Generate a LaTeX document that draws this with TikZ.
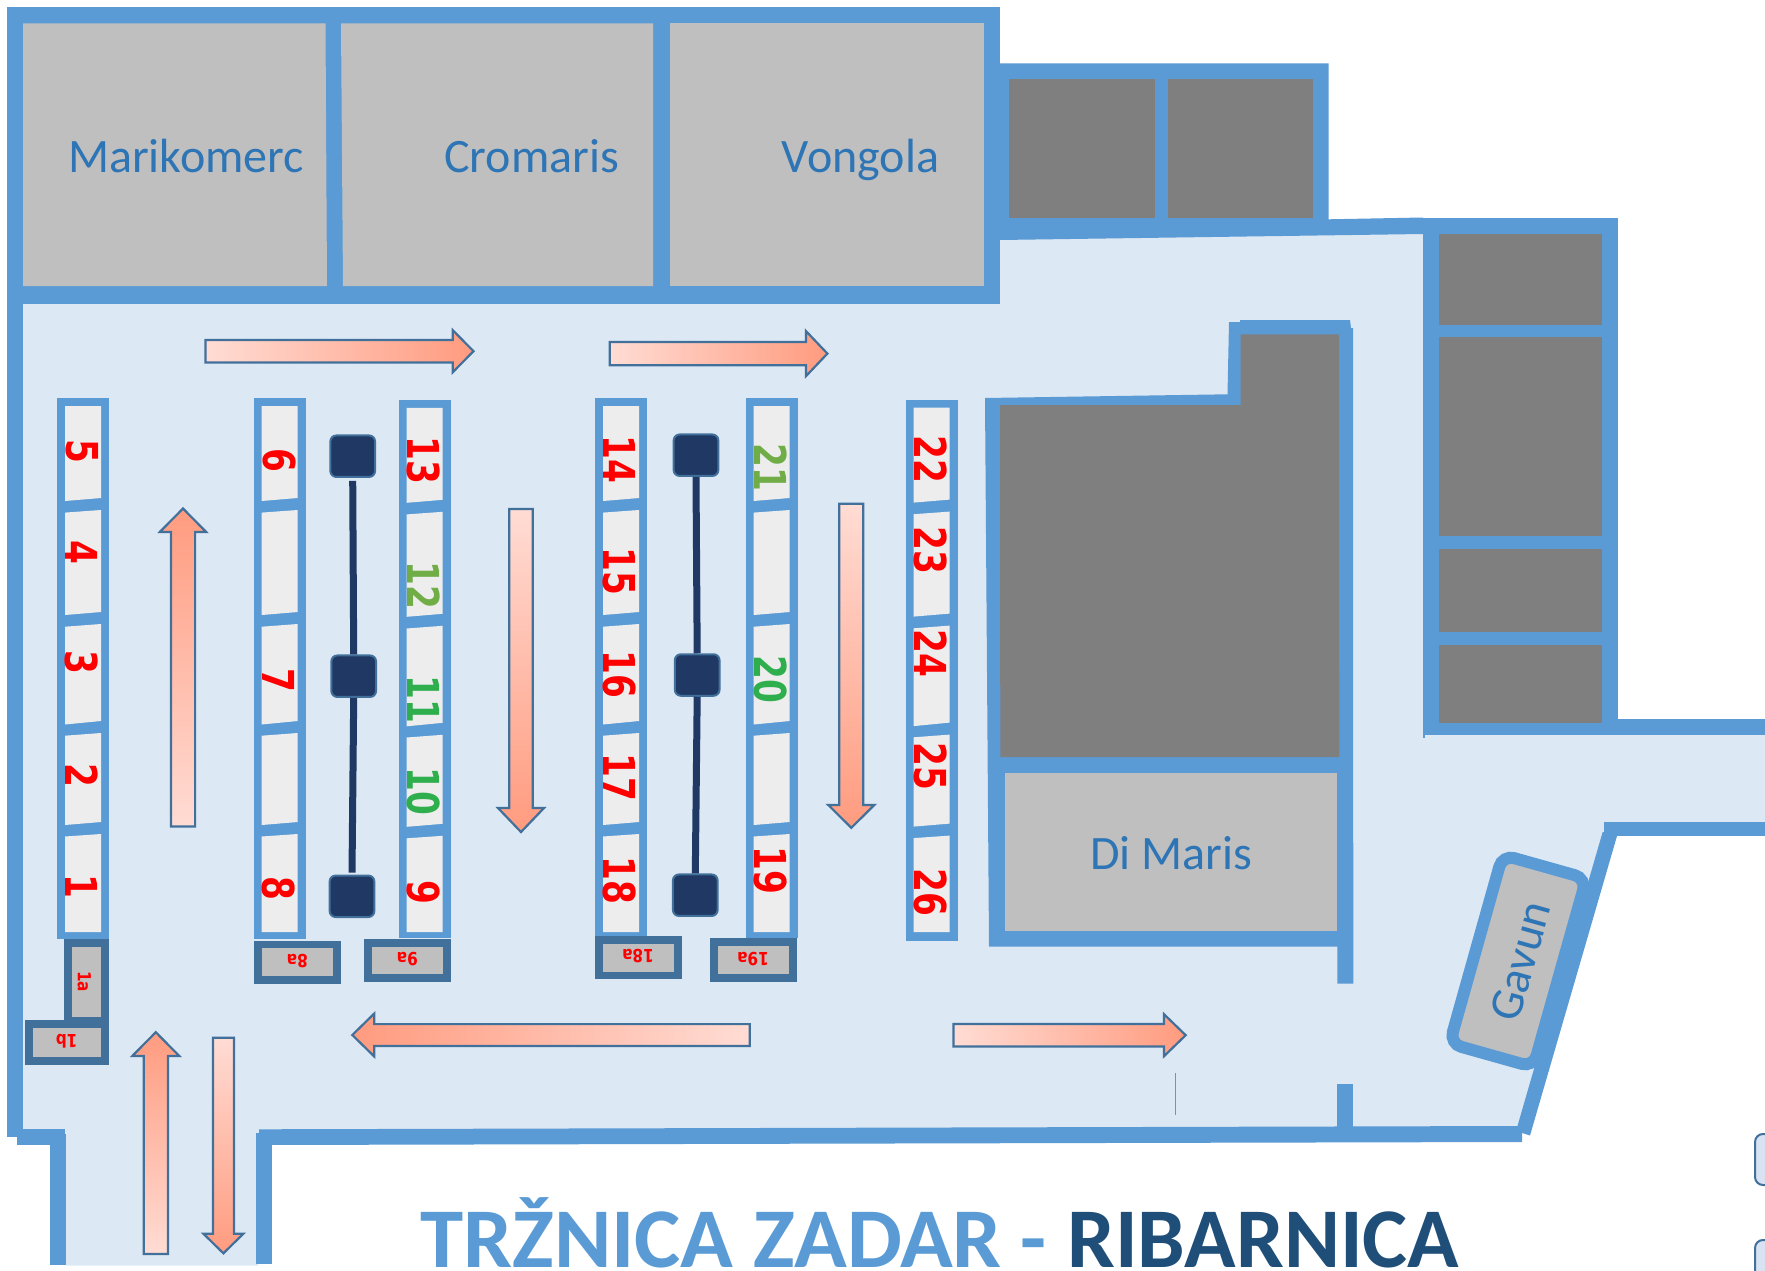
\documentclass[tikz,border=0pt]{standalone}
\usepackage{fontspec}
\setmainfont{Carlito}
\newfontfamily\numbold{DejaVu Sans Bold}
\definecolor{wall}{HTML}{5B9BD5}
\definecolor{floorc}{HTML}{DDE8F5}
\definecolor{midgray}{HTML}{BFBFBF}
\definecolor{darkgray2}{HTML}{7F7F7F}
\definecolor{cellc}{HTML}{EDEDED}
\definecolor{edgec}{HTML}{41709B}
\definecolor{navy}{HTML}{1F3864}
\definecolor{txtblue}{HTML}{2E75B6}
\definecolor{titledark}{HTML}{1F4E79}
\definecolor{lgreen}{HTML}{70AD47}
\definecolor{sgreen}{HTML}{2FAE4E}
\definecolor{arrowl}{HTML}{FFDCD4}
\definecolor{arrowd}{HTML}{FF9B7F}
\definecolor{sparec}{HTML}{D9E2F3}
\tikzset{
  wallfill/.style={fill=wall,draw=none},
  darkroom/.style={fill=darkgray2,draw=none},
  liteRoom/.style={fill=midgray,draw=none},
  flow/.style={draw=edgec,line width=2.2pt,line join=miter},
  shopname/.style={font=\fontsize{48pt}{50pt}\selectfont,text=txtblue,anchor=base,inner sep=0pt},
  stallnum/.style={font=\numbold\fontsize{44pt}{46pt}\selectfont,text=#1,yscale=.78,rotate=-90,inner sep=0pt},
  smalltag/.style={font=\numbold\fontsize{18pt}{20pt}\selectfont,text=red,inner sep=0pt},
  pillar/.style={draw=edgec,fill=navy,line width=2pt,rounded corners=6pt,minimum width=44.7pt,minimum height=41.5pt,inner sep=0pt},
  beam/.style={draw=navy,line width=7pt},
  spare/.style={draw=edgec,fill=sparec,line width=2pt,rounded corners=8pt},
  titlepart/.style={anchor=base west,inner sep=0pt,font=\bfseries\fontsize{85pt}{88pt}\selectfont}
}
% x0 outer left, dy, bottom of the outer frame
\newcommand\stallcol[3]{%
  \fill[wall] (#1,398+#2) rectangle (#1+52,#3);
  \begin{scope}[shift={(#1+8,#2)}]
    \fill[cellc] (0,406) -- (36,406) -- (36,498) -- (0,501) -- cycle;
    \fill[cellc] (0,512.6) -- (36,510) -- (36,612) -- (0,615) -- cycle;
    \fill[cellc] (0,626.7) -- (36,624) -- (36,721) -- (0,724.5) -- cycle;
    \fill[cellc] (0,735.7) -- (36,733) -- (36,822) -- (0,825) -- cycle;
    \fill[cellc] (0,836.5) -- (36,834) -- (36,932-#2) -- (0,932-#2) -- cycle;
  \end{scope}}
% tail x, base x, tip x, y centre, shaft half, head half
\newcommand\harrow[7]{%
  \filldraw[flow,#7] (#1,#4-#5) -- (#2,#4-#5) -- (#2,#4-#6) -- (#3,#4) -- (#2,#4+#6) -- (#2,#4+#5) -- (#1,#4+#5) -- cycle;}
\newcommand\varrow[7]{%
  \filldraw[flow,#7] (#4-#5,#1) -- (#4-#5,#2) -- (#4-#6,#2) -- (#4,#3) -- (#4+#6,#2) -- (#4+#5,#2) -- (#4+#5,#1) -- cycle;}
\begin{document}
\begin{tikzpicture}[x=1pt,y=-1pt]
\clip (0,0) rectangle (1765,1271);
\fill[white] (0,0) rectangle (1765,1271);
% floor
\fill[floorc] (15,290) -- (1000,290) -- (1000,238) -- (1430,232) -- (1430,725) -- (1765,725) -- (1765,829) -- (1610,829) -- (1525,1130) -- (262,1135) -- (258,1265.7) -- (66,1265.7) -- (66,1138) -- (15,1135) -- cycle;
% walls, top block
\fill[wall] (7,7.5) rectangle (1000,304);
\fill[wall] (7,304) rectangle (23,1137);
\fill[wall] (17,1129.3) rectangle (65,1145.3);
\fill[wall] (50,1134) rectangle (66,1265);
\fill[wall] (256,1132.7) rectangle (272,1264);
\fill[wall] (259,1129.3) -- (1522,1126) -- (1522,1142) -- (259,1145) -- cycle;
\fill[wall] (1602.7,831.8) -- (1617,836) -- (1530,1135.5) -- (1516,1131) -- cycle;
\fill[wall] (1604,822.4) rectangle (1765,835.8);
\fill[wall] (1617,719) rectangle (1765,734.6);
\fill[wall] (1422.5,217.5) rectangle (1617.5,734.6);
\fill[wall] (1423.3,734) rectangle (1424.8,738);
\fill[wall] (1000,63.3) -- (1328.5,63.3) -- (1328.5,219.3) -- (1423,217.5) -- (1423,234) -- (1000,240) -- cycle;
\fill[wall] (985,398) -- (1227.5,394.3) -- (1229,322) -- (1240,322) -- (1240,320) -- (1350,320) -- (1351,328) -- (1353,328) -- (1353.3,983.7) -- (1337.3,983.7) -- (1337.3,946.7) -- (989,946.7) -- cycle;
\fill[wall] (1337.3,1084.3) rectangle (1353.3,1129);
% rooms
\fill[liteRoom] (23,23.5) -- (325.5,23.5) -- (327,286) -- (23,286) -- cycle;
\fill[liteRoom] (341,23.5) -- (653,23.5) -- (653,286) -- (343,286) -- cycle;
\fill[liteRoom] (670,23.5) rectangle (984,286);
\fill[darkroom] (1009,79.3) rectangle (1155,217.7);
\fill[darkroom] (1167.5,79.3) rectangle (1312.5,217.7);
\fill[darkroom] (1438.8,234) rectangle (1601.5,325);
\fill[darkroom] (1438.8,337) rectangle (1601.5,536);
\fill[darkroom] (1438.8,549) rectangle (1601.5,631.5);
\fill[darkroom] (1438.8,645) rectangle (1601.5,722.6);
\fill[darkroom] (1000,405) -- (1240.5,405) -- (1240.5,334.3) -- (1339,334.3) -- (1339.3,757) -- (1000.3,757) -- cycle;
\fill[liteRoom] (1005,773) rectangle (1337.3,930.7);
% thin mark
\coordinate (ma) at (1175.7,1073.3);
\coordinate (mb) at (1175.7,1114.7);
\draw[wall,line width=1.5pt] (ma) -- (mb);
% shop names
\node[shopname] (marikomerc) at (186,172.5) {Marikomerc};
\node[shopname] (cromaris) at (531.5,172.5) {Cromaris};
\node[shopname] (vongola) at (860.5,172.5) {Vongola};
\node[shopname] (dimaris) at (1171,869) {Di Maris};
% Gavun
\node[draw=wall,fill=midgray,line width=12pt,rounded corners=12pt,minimum width=87pt,minimum height=196pt,inner sep=0pt,rotate=-15.7] (gavun) at (1518,961) {};
\node[inner sep=0pt,rotate=74.3,text=txtblue,font=\fontsize{47pt}{49pt}\selectfont] (gavunlabel) at (1520.5,961) {Gavun};
% stalls
\stallcol{57}{0}{939.4}
\stallcol{253.7}{0}{939.4}
\stallcol{398.7}{1.8}{938}
\stallcol{595}{0}{936}
\stallcol{745.7}{0}{938}
\stallcol{905.7}{1.6}{940.7}
% small stalls
\fill[edgec] (63.7,939) rectangle (109,1021);
\fill[midgray] (71.7,946.7) rectangle (101,1017);
\fill[edgec] (25.3,1020) rectangle (109,1065);
\fill[midgray] (33.3,1028) rectangle (101,1057);
\fill[edgec] (254,940.7) rectangle (340.7,984);
\fill[midgray] (262,948.3) rectangle (333,976);
\fill[edgec] (364,938.7) rectangle (450.7,982.3);
\fill[midgray] (372,946.7) rectangle (443,974.3);
\fill[edgec] (595,935.6) rectangle (681.7,979.4);
\fill[midgray] (603,943.9) rectangle (674,972);
\fill[edgec] (710,938.3) rectangle (796.7,982.2);
\fill[midgray] (718,946.2) rectangle (789,974.3);
\node[smalltag,yscale=.85,rotate=-90] (t1a) at (84.3,981.7) {1a};
\node[smalltag,rotate=180,xscale=.85] (t1b) at (66.7,1041.7) {1b};
\node[smalltag,rotate=180,xscale=.85] (t8a) at (297.3,961) {8a};
\node[smalltag,rotate=180,xscale=.85] (t9a) at (407.3,959.3) {9a};
\node[smalltag,rotate=180,xscale=.85] (t18a) at (638,956) {18a};
\node[smalltag,rotate=180,xscale=.85] (t19a) at (753,959.3) {19a};
% numbers
\foreach \n/\x/\y/\c in {5/82/451.4/red,4/82/552/red,3/82/662.6/red,2/82/775/red,1/82/886.7/red,
  6/279/460/red,7/279/680/red,8/279/888/red,
  13/423.5/460/red,12/423.5/585/lgreen,11/423.5/699/sgreen,10/423.5/791.6/sgreen,9/423.5/892/red,
  14/619.5/459/red,15/619.5/571.8/red,16/619.5/674.6/red,17/619.5/777.4/red,18/619.5/880/red,
  21/770.5/467.8/lgreen,20/770.5/679.7/sgreen,19/770.5/870.3/red,
  22/930.5/459/red,23/930.5/550.8/red,24/930.5/653.6/red,25/930.5/766.7/red,26/930.5/892/red}
  {\node[stallnum=\c] (num\n) at (\x,\y) {\n};}
% pillars
\node[pillar] (p1) at (352.7,456.2) {};
\node[pillar] (p2) at (353.7,676.2) {};
\node[pillar] (p3) at (352,896.3) {};
\node[pillar] (p4) at (696,455.2) {};
\node[pillar] (p5) at (697.2,675) {};
\node[pillar] (p6) at (695.3,895.2) {};
\draw[beam,shorten <=3pt] (p1.south) -- (p2.north);
\draw[beam,shorten >=2pt] (p2.south) -- (p3.north);
\draw[beam] (p4.south) -- (p5.north);
\draw[beam] (p5.south) -- (p6.north);
% flow arrows
\harrow{205.4}{452.8}{473.5}{351.2}{11.2}{21}{left color=arrowl,right color=arrowd}
\harrow{609.7}{806}{827.4}{353.6}{11.7}{22.5}{left color=arrowl,right color=arrowd}
\harrow{749.7}{374.3}{352.3}{1035}{10.9}{21.5}{left color=arrowd,right color=arrowl}
\harrow{953.5}{1164}{1185.7}{1035.2}{11.3}{21}{left color=arrowl,right color=arrowd}
\varrow{826.4}{532}{508.5}{183}{12.1}{23.2}{top color=arrowd,bottom color=arrowl}
\varrow{509}{808}{832}{521}{11.7}{23}{top color=arrowl,bottom color=arrowd}
\varrow{503.8}{805}{827.8}{851.3}{12}{23}{top color=arrowl,bottom color=arrowd}
\varrow{1254}{1056}{1032.2}{155.8}{12.1}{23.5}{top color=arrowd,bottom color=arrowl}
\varrow{1037.7}{1233.7}{1253.3}{223.4}{10.5}{20}{top color=arrowl,bottom color=arrowd}
% cut shapes at right edge
\draw[spare] (1755,1134) rectangle (1800,1185);
\draw[spare] (1755,1240) rectangle (1800,1300);
% title
\node[titlepart,xscale=1.025] (titlea) at (420,1267) {\textcolor{wall}{TRŽNICA ZADAR}};
\node[titlepart] (titleb) at (1020,1267) {\textcolor{wall}{-}};
\node[titlepart] (titlec) at (1067,1267) {\textcolor{titledark}{RIBARNICA}};
\end{tikzpicture}
\end{document}
